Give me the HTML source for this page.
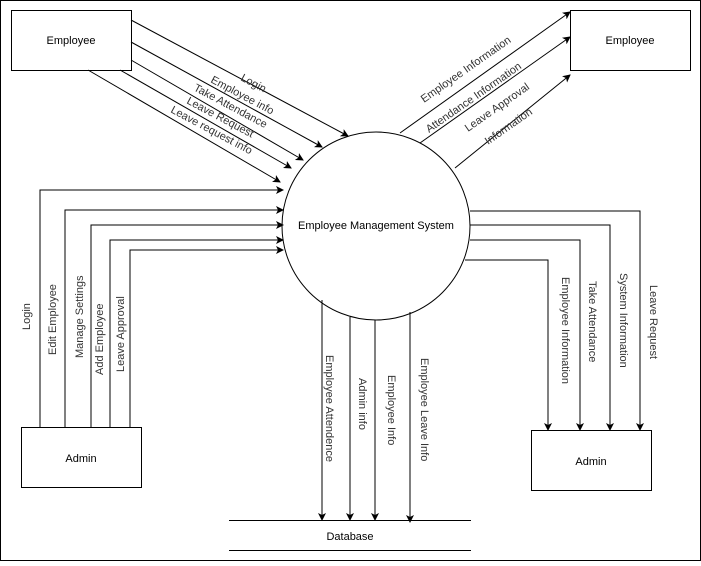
<!DOCTYPE html>
<html><head><style>body{margin:0;background:#fff}</style></head><body>
<svg width="701" height="561" xmlns="http://www.w3.org/2000/svg" font-family="Liberation Sans, Arial, sans-serif" font-size="11">
<defs><marker id="a" markerWidth="8" markerHeight="8" refX="7" refY="4" orient="auto" markerUnits="userSpaceOnUse"><path d="M0,0 L8,4 L0,8 L2,4 z" fill="#000"/></marker></defs>
<rect x="0.5" y="0.5" width="700" height="560" fill="#fff" stroke="#000"/>
<g fill="#fff" stroke="#000">
<rect x="11.5" y="10.5" width="120" height="60"/>
<rect x="570.5" y="10.5" width="120" height="60"/>
<rect x="21.5" y="427.5" width="120" height="60"/>
<rect x="531.5" y="430.5" width="120" height="60"/>
<circle cx="376" cy="226" r="94"/>
</g>
<g stroke="#000" fill="none" marker-end="url(#a)">
<path d="M131,20 L348,136"/>
<path d="M131,42 L322,147"/>
<path d="M131,60 L303,160"/>
<path d="M120,70 L291,168"/>
<path d="M88,70 L280,182"/>
<path d="M40,427 V190 H283"/>
<path d="M65,427 V210 H283"/>
<path d="M91,427 V225 H283"/>
<path d="M110,427 V240 H283"/>
<path d="M130,427 V250 H283"/>
<path d="M400,133 L570,12"/>
<path d="M420,143 L570,37"/>
<path d="M455,168 L570,75"/>
<path d="M470,211 H640 V430"/>
<path d="M470,225 H610 V430"/>
<path d="M470,240 H580 V430"/>
<path d="M465,260 H548 V430"/>
<path d="M322,300 V520"/>
<path d="M350,317 V520"/>
<path d="M375,320 V520"/>
<path d="M410,312 V522"/>
</g>
<g stroke="#000"><line x1="229" y1="520.5" x2="471" y2="520.5"/><line x1="229" y1="550.5" x2="471" y2="550.5"/></g>
<g fill="#000" text-anchor="middle">
<text x="71" y="44">Employee</text>
<text x="630" y="44">Employee</text>
<text x="81" y="462">Admin</text>
<text x="591" y="465">Admin</text>
<text x="376" y="229">Employee Management System</text>
<text x="350" y="540">Database</text>
</g>
<g fill="#333" font-size="11">
<text transform="translate(240,80) rotate(28)">Login</text>
<text transform="translate(210,82) rotate(28)">Employee info</text>
<text transform="translate(193,90) rotate(28)">Take Attendance</text>
<text transform="translate(186,103) rotate(28)">Leave Request</text>
<text transform="translate(170,112) rotate(28)">Leave request info</text>
<text transform="translate(424,103) rotate(-35)">Employee Information</text>
<text transform="translate(429,133) rotate(-35)">Attendance Information</text>
<text transform="translate(468,132) rotate(-35)">Leave Approval</text>
<text transform="translate(488,145) rotate(-35)">Information</text>
<text transform="translate(30,330) rotate(-90)">Login</text>
<text transform="translate(56,355) rotate(-90)">Edit Employee</text>
<text transform="translate(83,358) rotate(-90)">Manage Settings</text>
<text transform="translate(103,375) rotate(-90)">Add Employee</text>
<text transform="translate(124,372) rotate(-90)">Leave Approval</text>
<text transform="translate(326,355) rotate(90)">Employee Attendence</text>
<text transform="translate(359,378) rotate(90)">Admin info</text>
<text transform="translate(388,375) rotate(90)">Employee Info</text>
<text transform="translate(421,358) rotate(90)">Employee Leave Info</text>
<text transform="translate(562,277) rotate(90)">Employee Information</text>
<text transform="translate(589,281) rotate(90)">Take Attendance</text>
<text transform="translate(620,273) rotate(90)">System Information</text>
<text transform="translate(650,285) rotate(90)">Leave Request</text>
</g>
</svg>
</body></html>
